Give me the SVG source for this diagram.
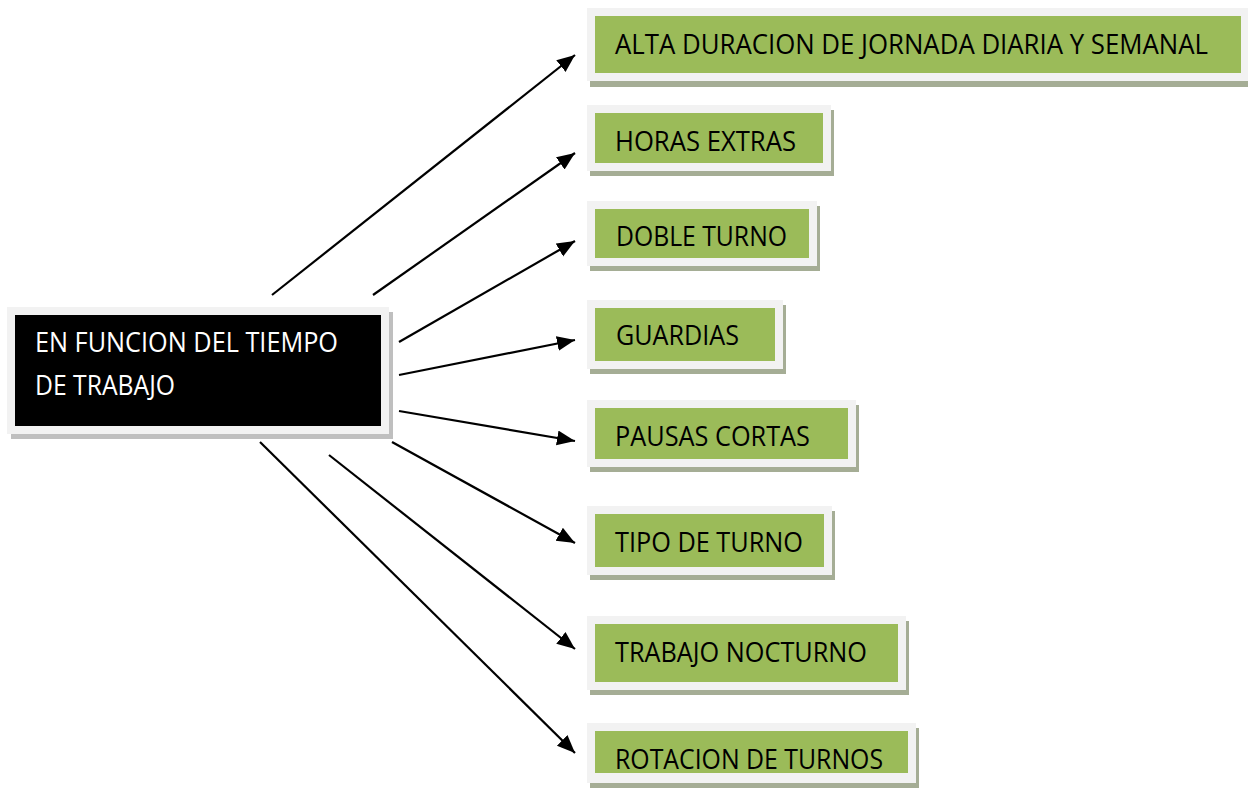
<svg xmlns="http://www.w3.org/2000/svg" width="1248" height="788" viewBox="0 0 1248 788">
<style>
.frame{fill:#f2f2f2}
.gshadow{fill:#a5ad95}
.mshadow{fill:#bfbfbf}
.green{fill:#9bbb59}
.black{fill:#000000}
.t{font-family:"Open Sans","Liberation Sans",sans-serif;font-size:27px;fill:#000000}
.tw{font-family:"Open Sans","Liberation Sans",sans-serif;font-size:27px;fill:#ffffff}
.conn line{stroke:#000000;stroke-width:2.2;marker-end:url(#ah)}
</style>
<defs>
<marker id="ah" markerUnits="userSpaceOnUse" markerWidth="20" markerHeight="16" refX="18" refY="7.5" orient="auto">
<path d="M0,0 L18,7.5 L0,15 z" fill="#000000"/>
</marker>
</defs>
<rect width="1248" height="788" fill="#ffffff"/>
<g id="main">
<rect class="mshadow" x="11" y="312" width="382" height="127"/>
<rect class="frame" x="7" y="307" width="382" height="127"/>
<rect class="black" x="15" y="315" width="366" height="111"/>
<text class="tw" x="35" y="352" textLength="303" lengthAdjust="spacingAndGlyphs">EN FUNCION DEL TIEMPO</text>
<text class="tw" x="35" y="395" textLength="140" lengthAdjust="spacingAndGlyphs">DE TRABAJO</text>
</g>
<g id="n1">
<rect class="gshadow" x="590" y="13" width="662" height="74"/>
<rect class="frame" x="587" y="8" width="662" height="73"/>
<rect class="green" x="595" y="16" width="646" height="57"/>
<text class="t" x="615" y="54" textLength="593" lengthAdjust="spacingAndGlyphs">ALTA DURACION DE JORNADA DIARIA Y SEMANAL</text>
</g>
<g id="n2">
<rect class="gshadow" x="590" y="110" width="244" height="66"/>
<rect class="frame" x="587" y="105" width="244" height="66"/>
<rect class="green" x="595" y="113" width="228" height="50"/>
<text class="t" x="615" y="151" textLength="181" lengthAdjust="spacingAndGlyphs">HORAS EXTRAS</text>
</g>
<g id="n3">
<rect class="gshadow" x="590" y="206" width="230" height="65"/>
<rect class="frame" x="587" y="201" width="230" height="65"/>
<rect class="green" x="595" y="209" width="214" height="49"/>
<text class="t" x="616" y="246" textLength="171" lengthAdjust="spacingAndGlyphs">DOBLE TURNO</text>
</g>
<g id="n4">
<rect class="gshadow" x="590" y="305" width="196" height="69"/>
<rect class="frame" x="587" y="300" width="196" height="69"/>
<rect class="green" x="595" y="308" width="180" height="53"/>
<text class="t" x="616" y="345" textLength="123" lengthAdjust="spacingAndGlyphs">GUARDIAS</text>
</g>
<g id="n5">
<rect class="gshadow" x="590" y="405" width="269" height="67"/>
<rect class="frame" x="587" y="400" width="269" height="67"/>
<rect class="green" x="595" y="408" width="253" height="51"/>
<text class="t" x="615" y="446" textLength="195" lengthAdjust="spacingAndGlyphs">PAUSAS CORTAS</text>
</g>
<g id="n6">
<rect class="gshadow" x="590" y="511" width="245" height="69"/>
<rect class="frame" x="587" y="506" width="245" height="69"/>
<rect class="green" x="595" y="514" width="229" height="53"/>
<text class="t" x="615" y="552" textLength="188" lengthAdjust="spacingAndGlyphs">TIPO DE TURNO</text>
</g>
<g id="n7">
<rect class="gshadow" x="590" y="621" width="319" height="74"/>
<rect class="frame" x="587" y="616" width="319" height="74"/>
<rect class="green" x="595" y="624" width="303" height="58"/>
<text class="t" x="615" y="662" textLength="252" lengthAdjust="spacingAndGlyphs">TRABAJO NOCTURNO</text>
</g>
<g id="n8">
<rect class="gshadow" x="590" y="728" width="329" height="62"/>
<rect class="frame" x="587" y="723" width="329" height="60"/>
<rect class="green" x="595" y="731" width="313" height="42"/>
<text class="t" x="615" y="769" textLength="268" lengthAdjust="spacingAndGlyphs">ROTACION DE TURNOS</text>
</g>
<g id="connectors" class="conn">
<line x1="272" y1="295" x2="575" y2="55"/>
<line x1="373" y1="295" x2="575" y2="153"/>
<line x1="399" y1="342" x2="575" y2="241"/>
<line x1="399" y1="375" x2="575" y2="340"/>
<line x1="399" y1="411" x2="575" y2="441"/>
<line x1="392" y1="442" x2="575" y2="543"/>
<line x1="329" y1="455" x2="575" y2="649"/>
<line x1="260" y1="442" x2="575" y2="753"/>
</g>
</svg>
